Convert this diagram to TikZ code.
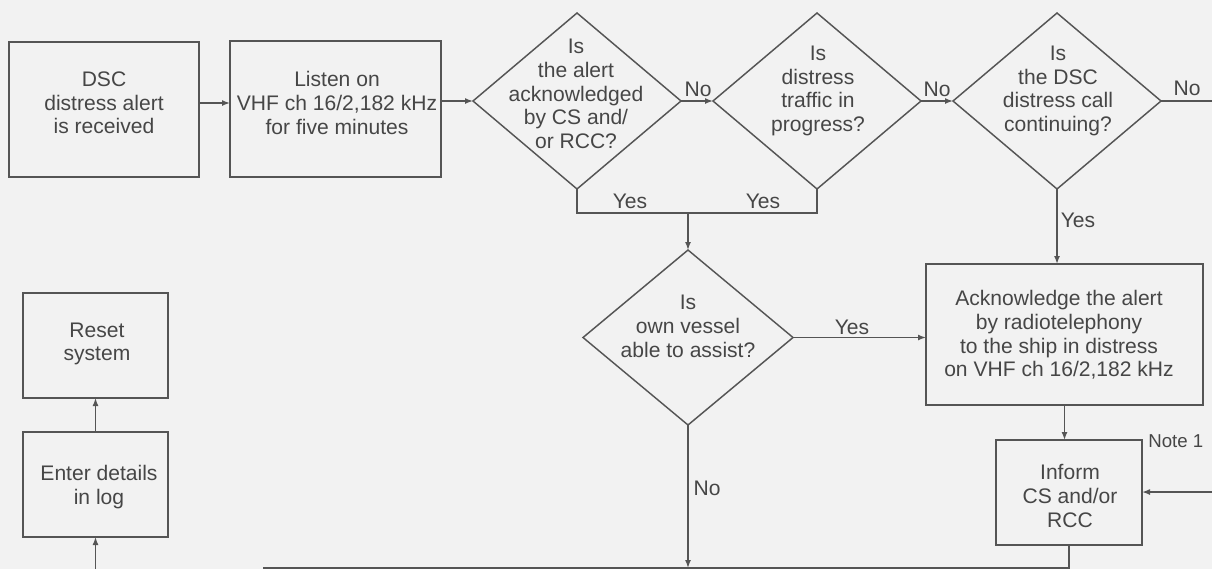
\documentclass[tikz,border=0pt]{standalone}
\usepackage{fontspec}
\setmainfont{Liberation Sans}
\usetikzlibrary{shapes.geometric,arrows.meta}
\definecolor{bg}{RGB}{242,242,242}
\definecolor{ln}{RGB}{85,85,85}
\definecolor{tx}{RGB}{70,70,70}
\begin{document}
\begin{tikzpicture}[x=0.75pt,y=-0.75pt,
  box/.style={draw=ln, line width=1.2pt, rectangle, inner sep=0pt, outer sep=0pt},
  dia/.style={draw=ln, line width=1.1pt, diamond, inner sep=0pt, outer sep=0pt},
  txt/.style={text=tx, align=center, font=\fontsize{15.8pt}{17.8pt}\selectfont, inner sep=0pt},
  lbl/.style={text=tx, font=\fontsize{15.8pt}{17.8pt}\selectfont, inner sep=0pt},
  conn/.style={draw=ln, line width=1.1pt},
  arr/.style={conn, -{Latex[length=6pt,width=4.5pt]}}]
\fill[bg] (0,0) rectangle (1212,569);
\useasboundingbox (0,0) rectangle (1212,569);

% boxes
\node[box, minimum width=142.5pt, minimum height=101.25pt] (dsc) at (104,109.5) {};
\node[txt] (dsct) at (104,103) {DSC\\distress alert\\is received};
\node[box, minimum width=158.25pt, minimum height=102pt] (listen) at (335.5,109) {};
\node[txt] (listent) at (337,103) {Listen on\\VHF ch 16/2,182 kHz\\for five minutes};

% diamonds
\node[dia, minimum width=156pt, minimum height=132pt] (d1) at (577,101) {};
\node[txt] (d1t) at (576,94) {Is\\the alert\\acknowledged\\by CS and/\\or RCC?};
\node[dia, minimum width=156pt, minimum height=132pt] (d2) at (817,101) {};
\node[txt] (d2t) at (818,91) {Is\\distress\\traffic in\\progress?};
\node[dia, minimum width=156pt, minimum height=132pt] (d3) at (1057,101) {};
\node[txt] (d3t) at (1058,91) {Is\\the DSC\\distress call\\continuing?};
\node[dia, minimum width=157.5pt, minimum height=131.25pt] (d4) at (688,337.5) {};
\node[txt] (d4t) at (688,326.5) {Is\\own vessel\\able to assist?};

\node[box, minimum width=207.75pt, minimum height=105.75pt] (ack) at (1064.5,334.5) {};
\node[txt] (ackt) at (1059,335) {Acknowledge the alert\\by radiotelephony\\to the ship in distress\\on VHF ch 16/2,182 kHz};
\node[box, minimum width=109.5pt, minimum height=78.75pt] (inform) at (1069,492.5) {};
\node[txt] (informt) at (1070,496) {Inform\\CS and/or\\RCC};
\node[box, minimum width=108.75pt, minimum height=78.75pt] (reset) at (95.5,345.5) {};
\node[txt] (resett) at (97,344) {Reset\\system};
\node[box, minimum width=108.75pt, minimum height=78.75pt] (enter) at (95.5,484.5) {};
\node[txt] (entert) at (99,487) {Enter details\\in log};

% coordinates
\coordinate (r1) at (0,103);
\coordinate (e3) at (1212,101);
\coordinate (j) at (688,213);
\coordinate (e5) at (1212,492);
\coordinate (b0) at (263,568);
\coordinate (b2) at (95.5,569);

% connectors
\draw[arr] (dsc.east |- r1) -- (listen.west |- r1);
\draw[arr] (listen.east |- d1.west) -- (d1.west);
\draw[arr] (d1.east) -- (d2.west);
\draw[arr] (d2.east) -- (d3.west);
\draw[conn] (d3.east) -- (e3);
\draw[conn] (d1.south) -- (d1.south |- j) -- (d2.south |- j) -- (d2.south);
\draw[arr] (j) -- (d4.north);
\draw[arr] (d3.south) -- (d3.south |- ack.north);
\draw[arr] (d4.east) -- (d4.east -| ack.west);
\draw[arr] (ack.south) -- (ack.south |- inform.north);
\draw[arr] (e5) -- (e5 -| inform.east);
\draw[conn] (inform.south) -- (inform.south |- b0) -- (b0);
\draw[arr] (d4.south) -- (d4.south |- b0);
\draw[arr] (b2) -- (enter.south);
\draw[arr] (enter.north) -- (reset.south);

% labels
\node[lbl] (no1) at (698,89) {No};
\node[lbl] (no2) at (937,89) {No};
\node[lbl] (no3) at (1187,88) {No};
\node[lbl] (yes1) at (630,201) {Yes};
\node[lbl] (yes2) at (763,201) {Yes};
\node[lbl] (yes3) at (1078,220) {Yes};
\node[lbl] (yes4) at (852,327) {Yes};
\node[lbl] (no4) at (707,488) {No};
\node[lbl, font=\fontsize{14pt}{16pt}\selectfont, anchor=west] (note) at (1148,441) {Note 1};
\end{tikzpicture}
\end{document}
